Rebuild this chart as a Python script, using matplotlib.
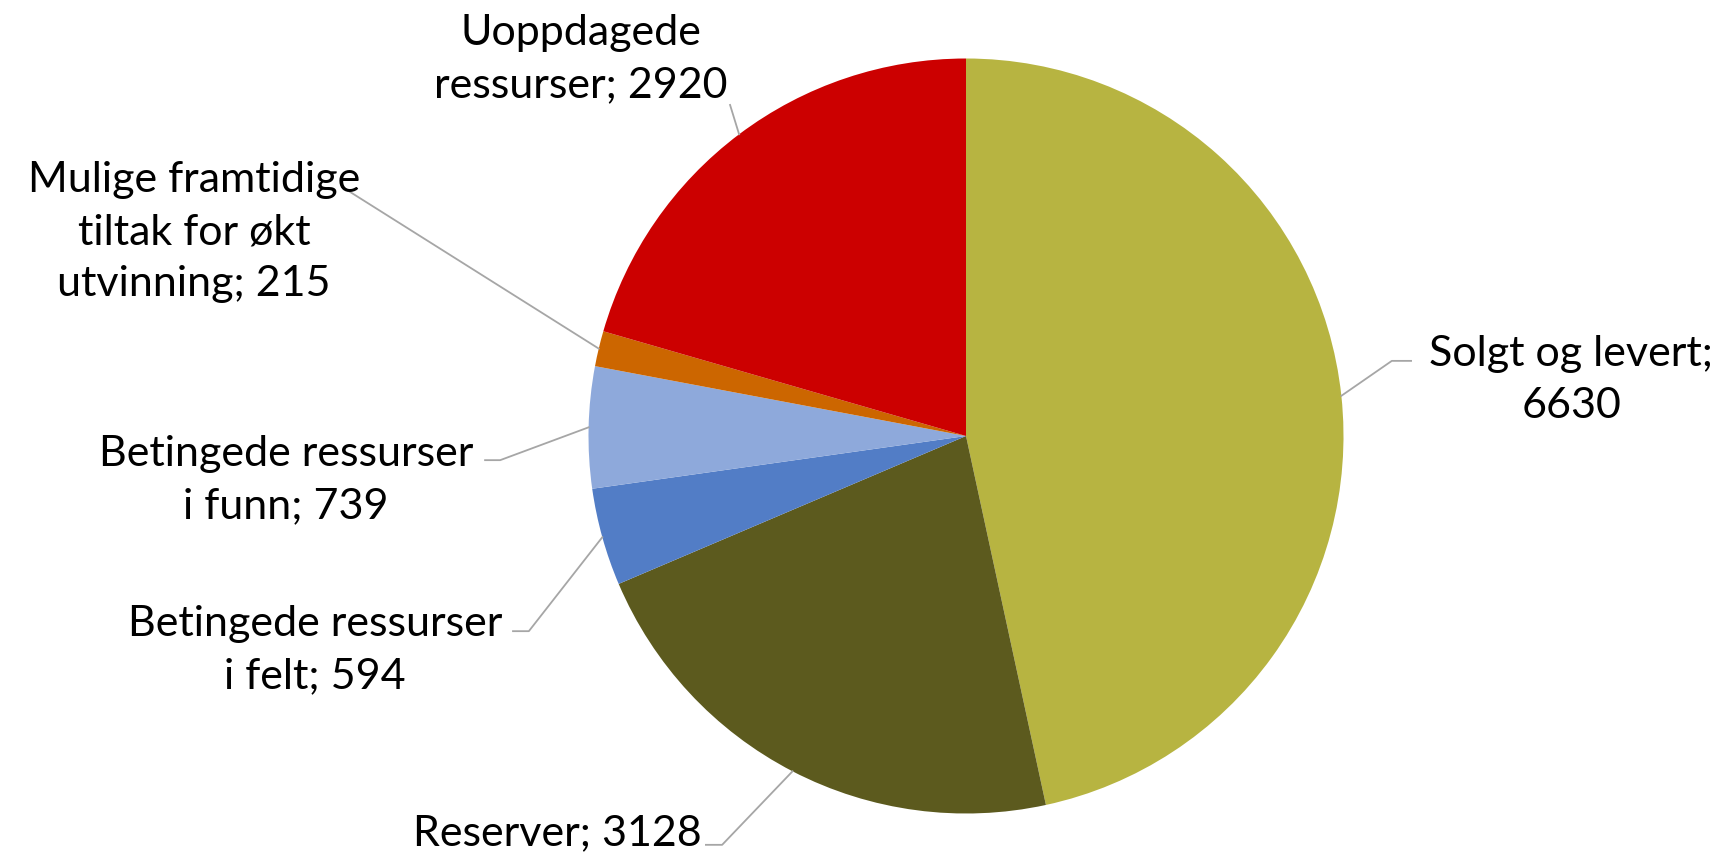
import numpy as np
import matplotlib
matplotlib.use("Agg")
import matplotlib.pyplot as plt

# data
labels = ["Solgt og levert;\n6630", "Reserver; 3128", "Betingede ressurser\ni felt; 594",
          "Betingede ressurser\ni funn; 739", "Mulige framtidige\ntiltak for økt\nutvinning; 215",
          "Uoppdagede\nressurser; 2920"]
values = [6630, 3128, 594, 739, 215, 2920]
colors = ["#B7B441", "#5C5A1E", "#527DC6", "#8EA9DB", "#CC6600", "#CC0000"]

# label placement (data units, pie radius = 1)
text_pos = [(1.603, 0.148), (-1.083, -1.052), (-1.724, -0.567),
            (-1.801, -0.116), (-2.045, 0.540), (-1.020, 0.999)]
elbows = [[(1.128, 0.199), (1.179, 0.199)],
          [(-0.646, -1.083), (-0.689, -1.083)],
          [(-1.158, -0.517), (-1.200, -0.517)],
          [(-1.234, -0.064), (-1.274, -0.064)],
          [(-1.653, 0.660)],
          [(-0.625, 0.877)]]

plt.rcParams['font.family'] = ['Lato', 'DejaVu Sans']
W, H = 1729, 857
fig = plt.figure(figsize=(W/100, H/100), dpi=100)
cx, cy, R = 966, 436, 377.5
ax = fig.add_axes([(cx-R)/W, (H-cy-R)/H, 2*R/W, 2*R/H])

wedges, _ = ax.pie(values, colors=colors, startangle=90, counterclock=False,
                   wedgeprops=dict(linewidth=0))
ax.set_xlim(-1, 1)
ax.set_ylim(-1, 1)
ax.axis("off")

total = sum(values)
start = 90.0
for i, v in enumerate(values):
    ang = v / total * 360
    mid = np.deg2rad(start - ang/2)
    start -= ang
    pts = [(np.cos(mid), np.sin(mid))] + elbows[i]
    xs, ys = zip(*pts)
    ax.plot(xs, ys, color="#A6A6A6", lw=1.3, clip_on=False)
    ax.text(text_pos[i][0], text_pos[i][1], labels[i], ha="center", va="center",
            fontsize=31, linespacing=1.45, color="black", clip_on=False)

fig.savefig("out.png", dpi=100)
